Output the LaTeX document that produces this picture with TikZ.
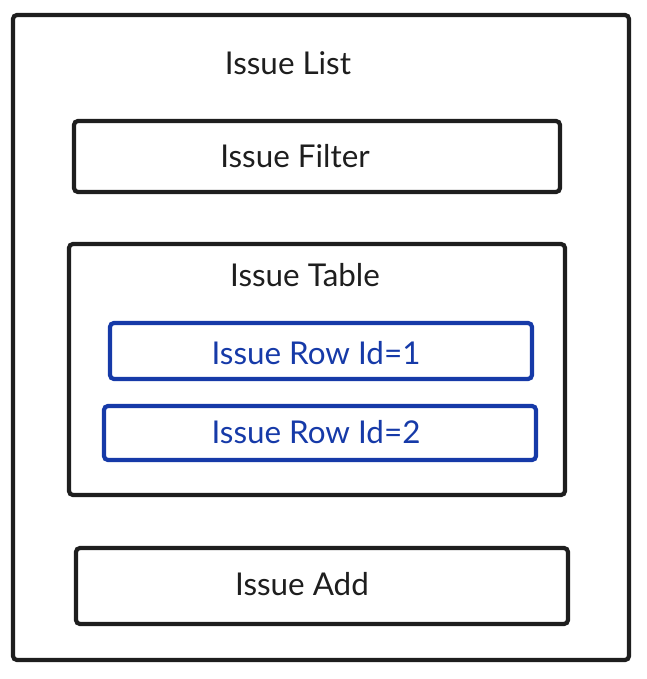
\documentclass[tikz,border=0pt]{standalone}
\usepackage{fontspec}
\setmainfont{Lato}
\definecolor{ink}{RGB}{30,30,30}
\definecolor{rowblue}{RGB}{22,58,168}
\begin{document}
\begin{tikzpicture}[x=1bp,y=-1bp,
  frame/.style={draw=ink,line width=4.2bp,rounded corners=4bp},
  rowbox/.style={draw=rowblue,line width=4.2bp,rounded corners=4bp},
  lbl/.style={font=\fontsize{31.5}{33}\selectfont,text=ink,inner sep=0pt},
  rowlbl/.style={font=\fontsize{31.5}{33}\selectfont,text=rowblue,inner sep=0pt}]
\useasboundingbox (0,0) rectangle (647,679);
\draw[frame] (13,15) rectangle (629,660);
\node[lbl] (list) at (288,63) {Issue List};
\draw[frame] (74,121) rectangle (560,192);
\node[lbl] (filter) at (295,156) {Issue Filter};
\draw[frame] (69,244) rectangle (565,495);
\node[lbl] (table) at (305,275) {Issue Table};
\draw[rowbox] (110,323) rectangle (532,379);
\node[rowlbl] (row1) at (316,353) {Issue Row Id=1};
\draw[rowbox] (104,406) rectangle (536,460);
\node[rowlbl] (row2) at (316,432) {Issue Row Id=2};
\draw[frame] (76,548) rectangle (568,624);
\node[lbl] (add) at (302,584) {Issue Add};
\end{tikzpicture}
\end{document}
